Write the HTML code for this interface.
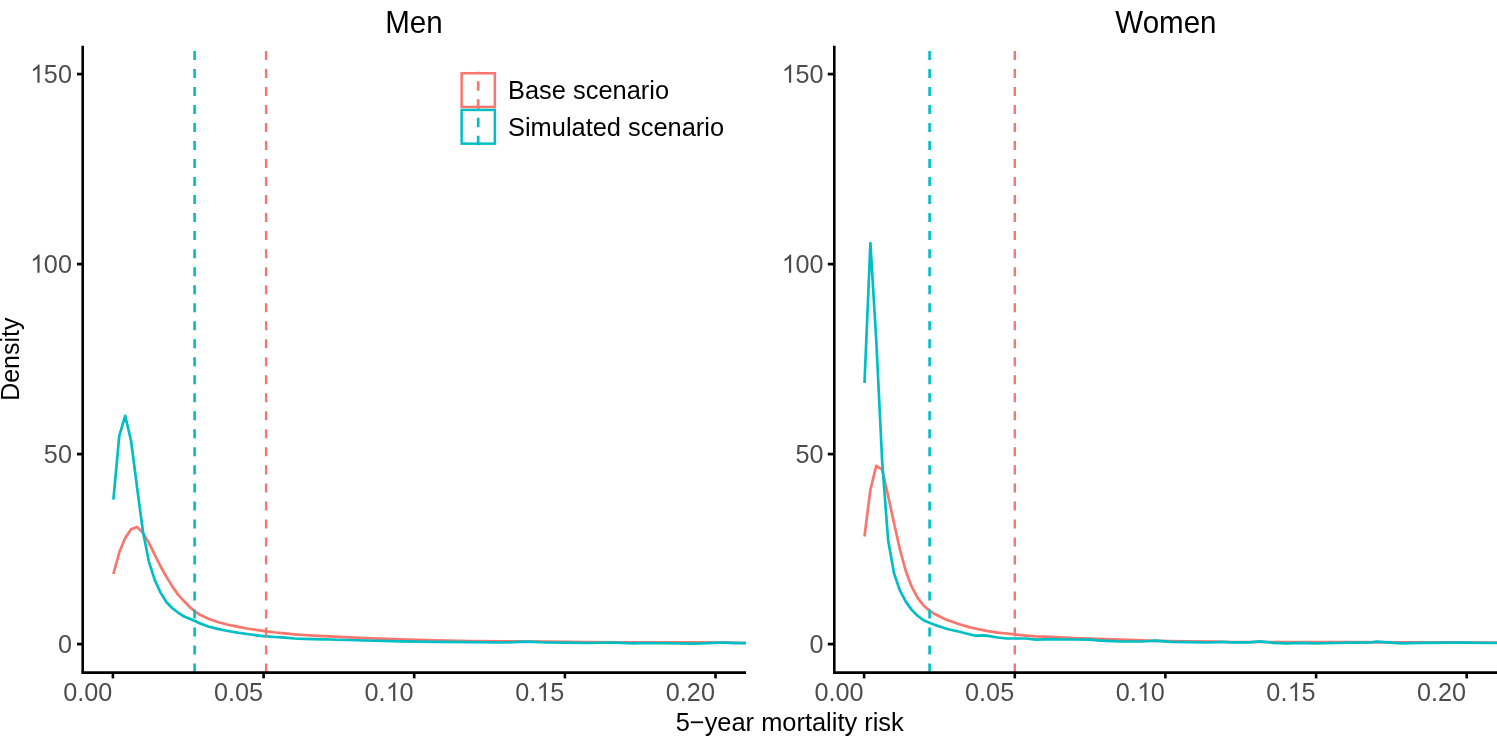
<!DOCTYPE html>
<html><head><meta charset="utf-8"><title>Density of 5-year mortality risk</title>
<style>html,body{margin:0;padding:0;background:#fff;}body{width:1497px;height:737px;overflow:hidden;font-family:"Liberation Sans",sans-serif;}svg{display:block;will-change:transform;}</style>
</head><body>
<svg width="1497" height="737" viewBox="0 0 1497 737" font-family="Liberation Sans, sans-serif">
<rect width="1497" height="737" fill="#fff"/>
<clipPath id="c1"><rect x="82.7" y="46.0" width="663.3" height="626.6"/></clipPath>
<g clip-path="url(#c1)" fill="none" stroke-linejoin="round" stroke-linecap="butt">
<path d="M113.4,574.0 L119.3,552.3 L125.2,538.1 L131.1,529.2 L137.0,526.9 L142.9,532.9 L148.8,542.6 L154.7,554.6 L160.6,566.5 L166.5,576.9 L172.4,586.6 L178.3,594.9 L184.2,601.3 L190.1,607.4 L196.0,612.2 L199.5,614.5 L209.0,619.0 L218.5,622.3 L228.0,624.7 L237.5,626.6 L247.0,628.5 L256.5,629.9 L266.0,631.3 L275.5,632.5 L285.0,633.4 L294.5,634.3 L304.0,635.0 L313.5,635.6 L323.0,636.1 L330.0,636.4 L365.0,638.1 L400.0,639.4 L435.0,640.4 L470.0,641.2 L503.0,641.3 L546.0,641.7 L588.0,642.1 L620.0,642.3 L700.0,642.4 L730.0,642.6 L746.5,643.0" stroke="#F8766D" stroke-width="2.7"/>
<path d="M113.4,499.6 L119.3,435.6 L125.2,415.8 L131.1,441.0 L137.0,486.7 L142.9,531.3 L148.8,561.3 L154.7,579.9 L160.6,592.6 L166.5,602.3 L172.4,608.3 L178.3,612.8 L184.2,616.5 L190.1,619.0 L196.0,621.6 L199.5,623.2 L209.0,626.8 L218.5,629.1 L228.0,631.0 L237.5,632.7 L247.0,634.0 L256.5,635.3 L266.0,636.4 L275.5,637.0 L285.0,637.7 L294.5,638.5 L304.0,638.9 L313.5,639.1 L323.0,639.4 L330.0,639.5 L365.0,640.5 L400.0,641.3 L435.0,641.9 L470.0,642.1 L503.0,642.5 L527.0,641.7 L546.0,642.5 L565.0,642.6 L588.7,643.0 L610.0,642.5 L633.7,643.4 L648.0,643.0 L695.5,643.6 L724.0,642.5 L733.5,643.2 L746.5,643.2" stroke="#00BFC4" stroke-width="2.7"/>
<line x1="266.1" y1="672.6" x2="266.1" y2="46.0" stroke="#F8766D" stroke-width="2.4" stroke-dasharray="9.01 9.01"/>
<line x1="194.6" y1="672.6" x2="194.6" y2="46.0" stroke="#00BFC4" stroke-width="2.65" stroke-dasharray="9.01 9.01"/>
</g>
<g stroke="#000" stroke-width="2.6" fill="none" stroke-linecap="butt">
<path d="M82.7,45.7 V672.6"/>
<path d="M81.4,672.6 H746.0"/>
<path d="M77.0,644.1 H82.7" stroke-width="2.75"/>
<path d="M77.0,454.1 H82.7" stroke-width="2.75"/>
<path d="M77.0,264.1 H82.7" stroke-width="2.75"/>
<path d="M77.0,74.1 H82.7" stroke-width="2.75"/>
<path d="M112.9,672.6 V678.4"/>
<path d="M263.6,672.6 V678.4"/>
<path d="M414.2,672.6 V678.4"/>
<path d="M564.9,672.6 V678.4"/>
<path d="M715.5,672.6 V678.4"/>
</g>
<g fill="#4D4D4D" font-size="25.6">
<text transform="translate(71.90,652.50) scale(0.985,1)" font-size="25.6" text-anchor="end">0</text>
<text transform="translate(71.90,462.50) scale(0.985,1)" font-size="25.6" text-anchor="end">50</text>
<text transform="translate(71.90,272.50) scale(0.985,1)" font-size="25.6" text-anchor="end">00</text><path transform="translate(30.18,272.80) scale(0.012313,-0.012500)" d="M763 0H583V1147Q518 1085 412.5 1023T223 930V1104Q374 1175 487 1276T647 1472H763Z"/>
<text transform="translate(71.90,82.50) scale(0.985,1)" font-size="25.6" text-anchor="end">50</text><path transform="translate(30.18,82.80) scale(0.012313,-0.012500)" d="M763 0H583V1147Q518 1085 412.5 1023T223 930V1104Q374 1175 487 1276T647 1472H763Z"/>
<text transform="translate(112.30,700.60) scale(0.985,1)" font-size="25.6" text-anchor="end">0.00</text>
<text transform="translate(262.95,700.60) scale(0.985,1)" font-size="25.6" text-anchor="end">0.05</text>
<text transform="translate(413.60,700.60) scale(0.985,1)" font-size="25.6" text-anchor="end">0</text><path transform="translate(385.90,700.90) scale(0.012313,-0.012500)" d="M763 0H583V1147Q518 1085 412.5 1023T223 930V1104Q374 1175 487 1276T647 1472H763Z"/><text transform="translate(385.55,700.60) scale(0.985,1)" font-size="25.6" text-anchor="end">0.</text>
<text transform="translate(564.25,700.60) scale(0.985,1)" font-size="25.6" text-anchor="end">5</text><path transform="translate(536.55,700.90) scale(0.012313,-0.012500)" d="M763 0H583V1147Q518 1085 412.5 1023T223 930V1104Q374 1175 487 1276T647 1472H763Z"/><text transform="translate(536.20,700.60) scale(0.985,1)" font-size="25.6" text-anchor="end">0.</text>
<text transform="translate(714.90,700.60) scale(0.985,1)" font-size="25.6" text-anchor="end">0.20</text>
</g>
<clipPath id="c2"><rect x="834.3" y="46.0" width="662.7" height="626.6"/></clipPath>
<g clip-path="url(#c2)" fill="none" stroke-linejoin="round" stroke-linecap="butt">
<path d="M864.5,536.5 L870.4,489.7 L876.3,465.8 L882.2,469.6 L888.1,495.7 L894.0,523.0 L899.9,549.4 L905.8,571.0 L911.7,586.7 L917.6,597.9 L923.5,605.4 L929.4,610.6 L935.3,614.3 L941.2,617.3 L947.1,620.0 L959.5,624.2 L969.0,627.1 L978.5,629.2 L988.0,631.1 L997.5,632.6 L1007.0,633.5 L1016.5,634.7 L1026.0,635.6 L1035.5,636.3 L1045.0,636.6 L1054.5,637.0 L1064.0,637.5 L1073.5,638.0 L1090.0,638.6 L1128.0,639.9 L1155.0,640.8 L1185.0,641.3 L1213.5,641.7 L1230.0,642.0 L1300.0,642.0 L1350.0,642.2 L1400.0,642.4 L1450.0,642.4 L1497.5,642.6" stroke="#F8766D" stroke-width="2.7"/>
<path d="M864.5,383.0 L870.4,243.0 L876.3,341.0 L882.2,462.0 L888.1,540.0 L894.0,573.3 L899.9,590.4 L905.8,601.6 L911.7,609.9 L917.6,615.8 L923.5,620.3 L929.4,622.8 L935.3,625.1 L941.2,627.0 L947.1,629.0 L959.5,631.8 L969.0,634.2 L975.6,635.6 L983.2,635.3 L988.0,635.9 L997.5,637.5 L1007.0,638.5 L1016.5,638.5 L1026.0,638.5 L1035.5,639.7 L1045.0,639.4 L1054.5,639.1 L1064.0,639.5 L1073.5,639.5 L1090.0,639.6 L1100.4,640.6 L1118.5,641.3 L1142.2,641.5 L1155.5,640.6 L1170.7,641.8 L1189.7,642.1 L1208.7,642.5 L1223.0,641.8 L1230.0,642.4 L1249.0,642.3 L1259.4,641.3 L1272.7,642.8 L1287.0,643.4 L1301.2,642.9 L1315.5,643.4 L1334.5,643.0 L1353.5,642.6 L1370.0,642.5 L1377.0,641.7 L1401.5,643.3 L1420.0,642.8 L1460.0,642.7 L1497.5,643.0" stroke="#00BFC4" stroke-width="2.7"/>
<line x1="1014.8" y1="672.6" x2="1014.8" y2="46.0" stroke="#F8766D" stroke-width="2.4" stroke-dasharray="9.01 9.01"/>
<line x1="929.6" y1="672.6" x2="929.6" y2="46.0" stroke="#00BFC4" stroke-width="2.65" stroke-dasharray="9.01 9.01"/>
</g>
<g stroke="#000" stroke-width="2.6" fill="none" stroke-linecap="butt">
<path d="M834.3,45.7 V672.6"/>
<path d="M833.0,672.6 H1497.0"/>
<path d="M827.8,644.1 H834.3" stroke-width="2.75"/>
<path d="M827.8,454.1 H834.3" stroke-width="2.75"/>
<path d="M827.8,264.1 H834.3" stroke-width="2.75"/>
<path d="M827.8,74.1 H834.3" stroke-width="2.75"/>
<path d="M864.1,672.6 V678.4"/>
<path d="M1014.8,672.6 V678.4"/>
<path d="M1165.4,672.6 V678.4"/>
<path d="M1316.1,672.6 V678.4"/>
<path d="M1466.7,672.6 V678.4"/>
</g>
<g fill="#4D4D4D" font-size="25.6">
<text transform="translate(823.50,652.50) scale(0.985,1)" font-size="25.6" text-anchor="end">0</text>
<text transform="translate(823.50,462.50) scale(0.985,1)" font-size="25.6" text-anchor="end">50</text>
<text transform="translate(823.50,272.50) scale(0.985,1)" font-size="25.6" text-anchor="end">00</text><path transform="translate(781.78,272.80) scale(0.012313,-0.012500)" d="M763 0H583V1147Q518 1085 412.5 1023T223 930V1104Q374 1175 487 1276T647 1472H763Z"/>
<text transform="translate(823.50,82.50) scale(0.985,1)" font-size="25.6" text-anchor="end">50</text><path transform="translate(781.78,82.80) scale(0.012313,-0.012500)" d="M763 0H583V1147Q518 1085 412.5 1023T223 930V1104Q374 1175 487 1276T647 1472H763Z"/>
<text transform="translate(863.50,700.60) scale(0.985,1)" font-size="25.6" text-anchor="end">0.00</text>
<text transform="translate(1014.15,700.60) scale(0.985,1)" font-size="25.6" text-anchor="end">0.05</text>
<text transform="translate(1164.80,700.60) scale(0.985,1)" font-size="25.6" text-anchor="end">0</text><path transform="translate(1137.10,700.90) scale(0.012313,-0.012500)" d="M763 0H583V1147Q518 1085 412.5 1023T223 930V1104Q374 1175 487 1276T647 1472H763Z"/><text transform="translate(1136.75,700.60) scale(0.985,1)" font-size="25.6" text-anchor="end">0.</text>
<text transform="translate(1315.45,700.60) scale(0.985,1)" font-size="25.6" text-anchor="end">5</text><path transform="translate(1287.75,700.90) scale(0.012313,-0.012500)" d="M763 0H583V1147Q518 1085 412.5 1023T223 930V1104Q374 1175 487 1276T647 1472H763Z"/><text transform="translate(1287.40,700.60) scale(0.985,1)" font-size="25.6" text-anchor="end">0.</text>
<text transform="translate(1466.10,700.60) scale(0.985,1)" font-size="25.6" text-anchor="end">0.20</text>
</g>
<text transform="translate(413.85,33.20) scale(0.953,1)" font-size="31.0" text-anchor="middle" fill="#000">Men</text>
<text transform="translate(1165.90,33.20) scale(0.953,1)" font-size="31.0" text-anchor="middle" fill="#000">Women</text>
<text transform="translate(789.70,731.20) scale(0.993,1)" font-size="25.6" text-anchor="middle" fill="#000">5−year mortality risk</text>
<text transform="translate(18.70,359.20) rotate(-90) scale(0.975,1)" font-size="25.6" text-anchor="middle" fill="#000">Density</text>
<rect x="461.65" y="73.25" width="33.2" height="33.7" fill="none" stroke="#F8766D" stroke-width="2.5"/>
<line x1="478.2" y1="108.65" x2="478.2" y2="71.85" stroke="#F8766D" stroke-width="2.7" stroke-dasharray="9.5 8.5"/>
<text transform="translate(508.00,99.30) scale(0.993,1)" font-size="25.6" text-anchor="start" fill="#000">Base scenario</text>
<rect x="461.65" y="109.95" width="33.2" height="33.7" fill="none" stroke="#00BFC4" stroke-width="2.5"/>
<line x1="478.2" y1="145.35" x2="478.2" y2="108.55" stroke="#00BFC4" stroke-width="2.7" stroke-dasharray="9.5 8.5"/>
<text transform="translate(508.00,136.00) scale(0.993,1)" font-size="25.6" text-anchor="start" fill="#000">Simulated scenario</text>
</svg>
</body></html>
